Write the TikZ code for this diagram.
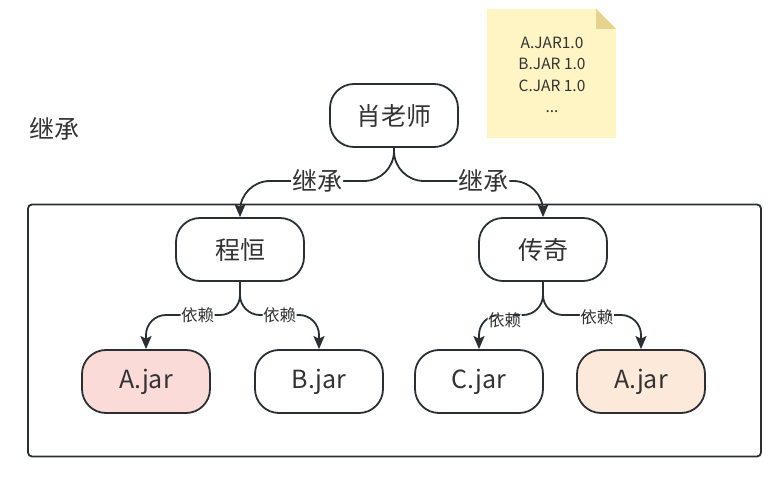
\documentclass[tikz,border=0pt]{standalone}
\usepackage{fontspec}
\setmainfont{Noto Sans CJK SC}
\usetikzlibrary{arrows.meta}
\definecolor{ink}{HTML}{2B2F33}
\definecolor{txt}{HTML}{333333}
\definecolor{pinkfill}{HTML}{FADBD8}
\definecolor{peachfill}{HTML}{FCE9DA}
\definecolor{notefill}{HTML}{FFF4C3}
\definecolor{notefold}{HTML}{E5D38E}
\tikzset{
  box/.style={draw=ink, line width=1.8pt, rounded corners=24pt, minimum width=128pt, minimum height=63pt, inner sep=0pt, font=\fontsize{25}{28}\selectfont, text=txt},
  edge/.style={draw=ink, line width=1.8pt, rounded corners=30pt, -{Stealth[length=13pt,width=11pt,inset=2.5pt]}},
  dep/.style={draw=ink, line width=1.8pt, rounded corners=20pt, -{Stealth[length=13pt,width=11pt,inset=2.5pt]}},
  biglbl/.style={fill=white, inner sep=1pt, font=\fontsize{25}{27}\selectfont, text=txt},
  smalllbl/.style={fill=white, inner sep=0.5pt, font=\fontsize{16.5}{18}\selectfont, text=txt},
}
\begin{document}
\begin{tikzpicture}[x=1pt,y=-1pt]
\useasboundingbox (0,0) rectangle (777,494);
% container
\node[draw=ink, line width=1.8pt, rounded corners=4pt, minimum width=733pt, minimum height=252pt, inner sep=0pt] (frame) at (394.5,330.5) {};
\node[font=\fontsize{25}{27}\selectfont, text=txt] (title) at (55,129) {继承};
% note
\fill[notefill] (487,9) -- (596,9) -- (616,29) -- (616,138) -- (487,138) -- cycle;
\fill[notefold] (596,9) -- (616,29) -- (596,29) -- cycle;
\node[font=\fontsize{15.5}{21.5}\selectfont, text=txt, align=center] (note) at (552,75) {A.JAR1.0\\B.JAR 1.0\\C.JAR 1.0\\...};
% nodes
\node[box] (xiao) at (394,115.5) {肖老师};
\node[box] (cheng) at (240,249.5) {程恒};
\node[box] (chuan) at (543,249.5) {传奇};
\node[box, fill=pinkfill] (a1) at (146,381.5) {A.jar};
\node[box, fill=white] (b) at (319,381.5) {B.jar};
\node[box, fill=white] (c) at (479,381.5) {C.jar};
\node[box, fill=peachfill] (a2) at (641,381.5) {A.jar};
% helper levels
\coordinate (h1) at (0,181);
\coordinate (h2) at (0,315);
% inheritance edges
\draw[edge] (xiao.south) -- (xiao.south |- h1) -- node[biglbl,pos=0.5]{继承} (cheng.north |- h1) -- (cheng.north);
\draw[edge] (xiao.south) -- (xiao.south |- h1) -- node[biglbl,pos=0.6]{继承} (chuan.north |- h1) -- (chuan.north);
% dependency edges
\draw[dep] (cheng.south) -- (cheng.south |- h2) -- node[smalllbl,pos=0.45]{依赖} (a1.north |- h2) -- (a1.north);
\draw[dep] (cheng.south) -- (cheng.south |- h2) -- node[smalllbl,pos=0.5]{依赖} (b.north |- h2) -- (b.north);
\draw[dep] (chuan.south) -- (chuan.south |- h2) -- node[smalllbl,pos=0.6,yshift=-5pt]{依赖} (c.north |- h2) -- (c.north);
\draw[dep] (chuan.south) -- (chuan.south |- h2) -- node[smalllbl,pos=0.55,yshift=-2pt]{依赖} (a2.north |- h2) -- (a2.north);
\end{tikzpicture}
\end{document}
